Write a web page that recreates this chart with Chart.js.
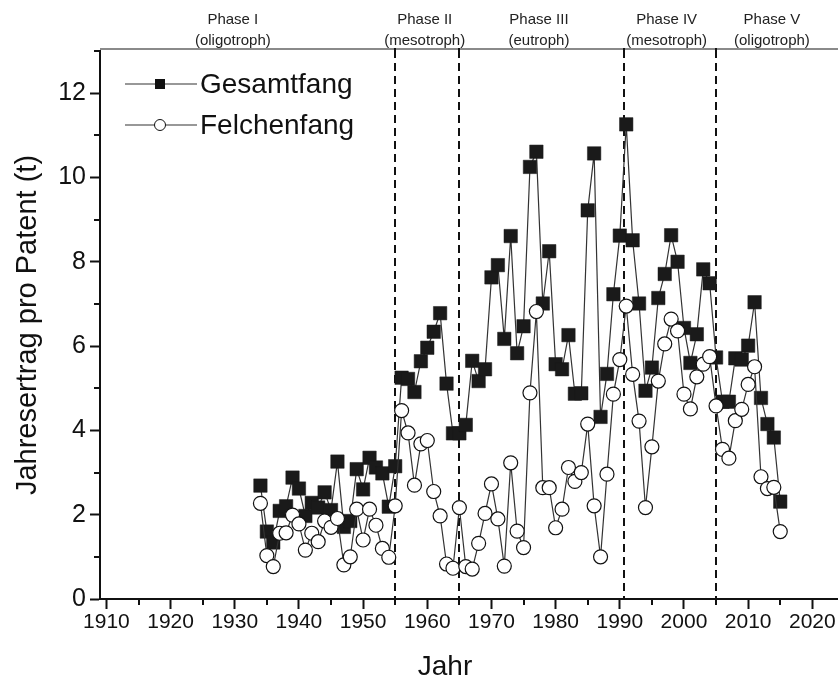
<!DOCTYPE html>
<html>
<head>
<meta charset="utf-8">
<script src="https://cdn.jsdelivr.net/npm/chart.js@4/dist/chart.umd.min.js"></script>
<style>
  body { margin: 0; background: #fff; }
</style>
</head>
<body>
<canvas id="fang" width="838" height="684"></canvas>
<script>
// Jahre und Jahresertrag pro Patent (t)
const jahre = [1934, 1935, 1936, 1937, 1938, 1939, 1940, 1941, 1942, 1943, 1944, 1945, 1946, 1947, 1948, 1949,
  1950, 1951, 1952, 1953, 1954, 1955, 1956, 1957, 1958, 1959, 1960, 1961, 1962, 1963, 1964, 1965,
  1966, 1967, 1968, 1969, 1970, 1971, 1972, 1973, 1974, 1975, 1976, 1977, 1978, 1979, 1980, 1981,
  1982, 1983, 1984, 1985, 1986, 1987, 1988, 1989, 1990, 1991, 1992, 1993, 1994, 1995, 1996, 1997,
  1998, 1999, 2000, 2001, 2002, 2003, 2004, 2005, 2006, 2007, 2008, 2009, 2010, 2011, 2012, 2013,
  2014, 2015];
const gesamtfang = [2.69, 1.60, 1.34, 2.09, 2.20, 2.88, 2.62, 1.97, 2.28, 2.17, 2.53, 2.11, 3.26, 1.71, 1.85, 3.08,
  2.60, 3.35, 3.12, 2.98, 2.19, 3.15, 5.25, 5.22, 4.91, 5.64, 5.96, 6.34, 6.78, 5.11, 3.93, 3.93,
  4.13, 5.65, 5.17, 5.45, 7.63, 7.92, 6.17, 8.61, 5.83, 6.47, 10.25, 10.61, 7.01, 8.25, 5.57, 5.45,
  6.26, 4.87, 4.88, 9.22, 10.57, 4.32, 5.34, 7.23, 8.62, 11.26, 8.51, 7.01, 4.94, 5.49, 7.14, 7.71,
  8.63, 8.00, 6.43, 5.60, 6.28, 7.82, 7.49, 5.73, 4.68, 4.68, 5.71, 5.68, 6.01, 7.04, 4.77, 4.15,
  3.83, 2.31];
const felchenfang = [2.27, 1.03, 0.77, 1.56, 1.57, 1.99, 1.78, 1.16, 1.56, 1.36, 1.85, 1.70, 1.91, 0.81, 1.00, 2.13,
  1.40, 2.13, 1.75, 1.20, 0.99, 2.21, 4.47, 3.94, 2.70, 3.68, 3.76, 2.55, 1.97, 0.83, 0.73, 2.17,
  0.77, 0.71, 1.32, 2.03, 2.73, 1.90, 0.78, 3.23, 1.61, 1.22, 4.89, 6.82, 2.64, 2.64, 1.69, 2.13,
  3.12, 2.79, 3.00, 4.15, 2.21, 1.00, 2.96, 4.86, 5.68, 6.95, 5.33, 4.22, 2.17, 3.61, 5.17, 6.05,
  6.64, 6.36, 4.86, 4.51, 5.27, 5.57, 5.75, 4.58, 3.55, 3.34, 4.23, 4.50, 5.09, 5.51, 2.90, 2.62,
  2.65, 1.60];

// Phasen (Grenzjahre und Beschriftungen)
const phasenGrenzen = [1955, 1965, 1990.7, 2005];
const phasenNamen = ["Phase I", "Phase II", "Phase III", "Phase IV", "Phase V"];
const phasenZustand = ["(oligotroph)", "(mesotroph)", "(eutroph)", "(mesotroph)", "(oligotroph)"];

// Achsenbeschriftung
const xTicks = [1910, 1920, 1930, 1940, 1950, 1960, 1970, 1980, 1990, 2000, 2010, 2020];
const xMinor = [1915, 1925, 1935, 1945, 1955, 1965, 1975, 1985, 1995, 2005, 2015];
const yTicks = [0, 2, 4, 6, 8, 10, 12];
const yMinor = [1, 3, 5, 7, 9, 11, 13];
const xTitel = "Jahr";

const schrift = "'Liberation Sans', Arial, sans-serif";

// Zusatz: Rahmen oben, Phasenlinien, kleine Ticks, Beschriftung, Legende
const deko = {
  id: "deko",
  beforeDatasetsDraw(chart) {
    const ctx = chart.ctx;
    const a = chart.chartArea;
    const x = chart.scales.x;
    ctx.save();
    ctx.strokeStyle = "#111";
    ctx.lineWidth = 2;
    ctx.setLineDash([8, 5]);
    phasenGrenzen.forEach(j => {
      const px = Math.round(x.getPixelForValue(j));
      ctx.beginPath();
      ctx.moveTo(px, a.top - 1);
      ctx.lineTo(px, a.bottom);
      ctx.stroke();
    });
    ctx.restore();
  },
  afterDraw(chart) {
    const ctx = chart.ctx;
    const a = chart.chartArea;
    const x = chart.scales.x;
    const y = chart.scales.y;
    ctx.save();
    // obere Linie
    ctx.strokeStyle = "#8a8a8a";
    ctx.lineWidth = 2;
    ctx.beginPath();
    ctx.moveTo(a.left, a.top - 2);
    ctx.lineTo(chart.width, a.top - 2);
    ctx.stroke();
    // kleine Ticks
    ctx.strokeStyle = "#111";
    ctx.lineWidth = 2;
    xMinor.forEach(j => {
      const px = Math.round(x.getPixelForValue(j));
      ctx.beginPath();
      ctx.moveTo(px, a.bottom);
      ctx.lineTo(px, a.bottom + 6);
      ctx.stroke();
    });
    yMinor.forEach(v => {
      const py = Math.round(y.getPixelForValue(v));
      ctx.beginPath();
      ctx.moveTo(a.left, py);
      ctx.lineTo(a.left - 6, py);
      ctx.stroke();
    });
    phasenGrenzen.forEach(j => {
      const px = Math.round(x.getPixelForValue(j));
      ctx.beginPath();
      ctx.moveTo(px, a.top - 3);
      ctx.lineTo(px, a.top + 6);
      ctx.stroke();
    });
    // Phasen-Texte
    const mitte = [1929.7, 1959.6, 1977.4, 1997.3, 2013.7];
    ctx.fillStyle = "#222";
    ctx.font = "15px " + schrift;
    ctx.textAlign = "center";
    ctx.textBaseline = "middle";
    mitte.forEach((j, i) => {
      const px = x.getPixelForValue(j);
      ctx.fillText(phasenNamen[i], px, 20);
      ctx.fillText(phasenZustand[i], px, 41);
    });
    // x-Achsentitel
    ctx.fillStyle = "#111";
    ctx.font = "28px " + schrift;
    ctx.fillText(xTitel, 445, 667);
    // Legende
    const ds = chart.data.datasets;
    const zeilen = [84, 125];
    ctx.textAlign = "left";
    ds.forEach((d, i) => {
      const ly = zeilen[i];
      ctx.strokeStyle = "#333";
      ctx.lineWidth = 1.2;
      ctx.beginPath();
      ctx.moveTo(125, ly);
      ctx.lineTo(197, ly);
      ctx.stroke();
      ctx.lineWidth = 1;
      if (d.pointStyle === "rect") {
        ctx.fillStyle = "#111";
        ctx.fillRect(155, ly - 5, 10, 10);
      } else {
        ctx.fillStyle = "#fff";
        ctx.strokeStyle = "#111";
        ctx.beginPath();
        ctx.arc(160, ly, 5.5, 0, Math.PI * 2);
        ctx.fill();
        ctx.stroke();
      }
      ctx.fillStyle = "#111";
      ctx.fillText(d.label, 200, ly + 1);
    });
    ctx.restore();
  }
};

new Chart(document.getElementById("fang"), {
  type: "line",
  data: {
    datasets: [
      {
        label: "Gesamtfang",
        data: jahre.map((j, i) => ({ x: j, y: gesamtfang[i] })),
        borderColor: "#333",
        borderWidth: 1.2,
        pointStyle: "rect",
        pointRadius: 9.5,
        pointBackgroundColor: "#1a1a1a",
        pointBorderColor: "#1a1a1a",
        pointBorderWidth: 0.5,
        tension: 0,
        order: 2
      },
      {
        label: "Felchenfang",
        data: jahre.map((j, i) => ({ x: j, y: felchenfang[i] })),
        borderColor: "#333",
        borderWidth: 1.2,
        pointStyle: "circle",
        pointRadius: 7,
        pointBackgroundColor: "#fff",
        pointBorderColor: "#111",
        pointBorderWidth: 1.2,
        tension: 0,
        order: 1
      }
    ]
  },
  options: {
    responsive: false,
    animation: false,
    events: [],
    layout: { autoPadding: false, padding: { top: 51, right: 0, bottom: 0, left: 0 } },
    plugins: {
      legend: { display: false },
      tooltip: { enabled: false }
    },
    scales: {
      x: {
        type: "linear",
        min: 1909,
        max: 2024,
        afterBuildTicks: s => { s.ticks = xTicks.map(v => ({ value: v })); },
        afterFit: s => { s.height = 85; s.paddingLeft = 0; s.paddingRight = 0; },
        ticks: {
          callback: v => String(v),
          font: { family: schrift, size: 21 },
          color: "#111",
          padding: 1,
          maxRotation: 0,
          autoSkip: false
        },
        grid: { drawOnChartArea: false, drawTicks: true, tickLength: 10, tickWidth: 2, tickColor: "#111" },
        border: { color: "#111", width: 2 },
        title: { display: false }
      },
      y: {
        min: 0,
        max: 13,
        afterBuildTicks: s => { s.ticks = yTicks.map(v => ({ value: v })); },
        afterFit: s => { s.width = 100; },
        ticks: {
          font: { family: schrift, size: 25 },
          color: "#111",
          padding: 4
        },
        grid: { drawOnChartArea: false, drawTicks: true, tickLength: 10, tickWidth: 2, tickColor: "#111" },
        border: { color: "#111", width: 2 },
        title: {
          display: true,
          text: "Jahresertrag pro Patent (t)",
          font: { family: schrift, size: 29 },
          color: "#111",
          padding: { top: 11, bottom: 0 }
        }
      }
    }
  },
  plugins: [deko]
});
</script>
</body>
</html>
